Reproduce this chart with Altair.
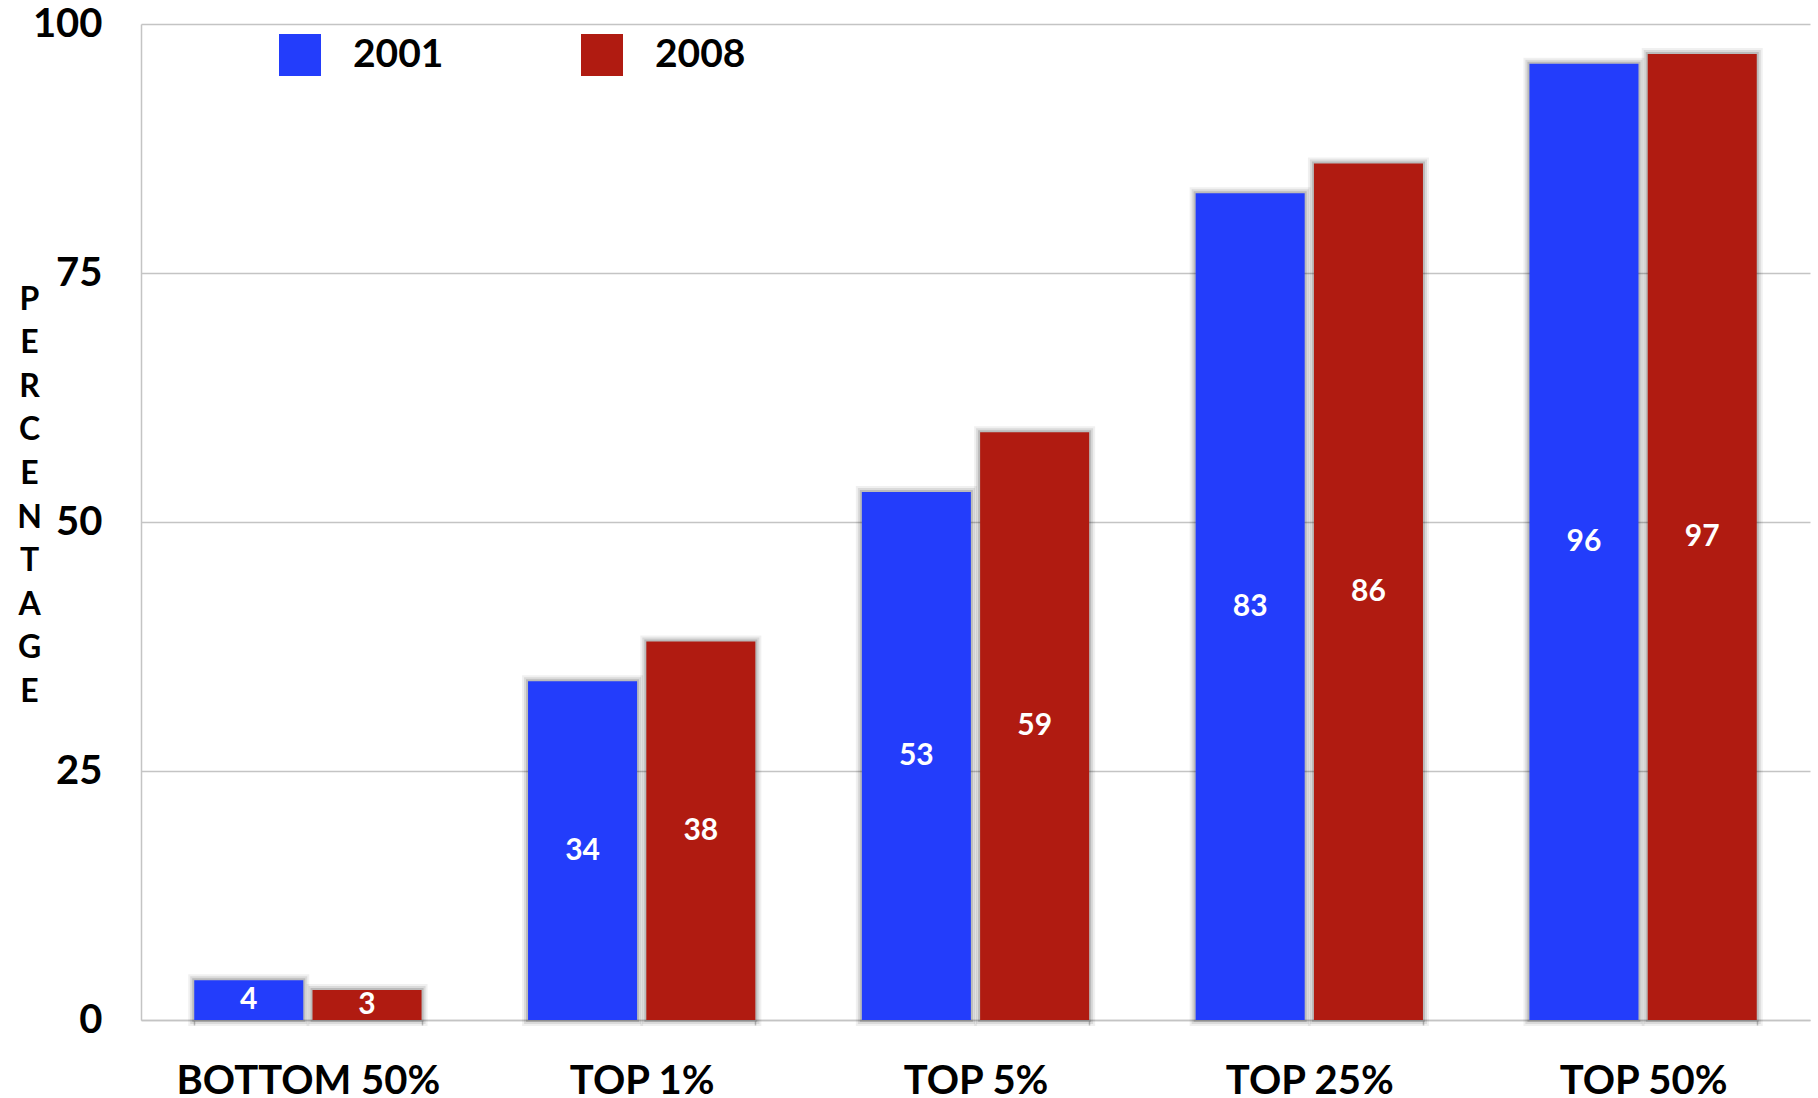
import altair as alt
import pandas as pd

# Share of income tax paid by each income group, 2001 vs 2008
categories = ["BOTTOM 50%", "TOP 1%", "TOP 5%", "TOP 25%", "TOP 50%"]
years = ["2001", "2008"]
share_2001 = [4, 34, 53, 83, 96]
share_2008 = [3, 38, 59, 86, 97]
y_ticks = [0, 25, 50, 75, 100]
bar_colors = ["#233DFB", "#B01B11"]

rows = []
for cat, a, b in zip(categories, share_2001, share_2008):
    rows.append({"group": cat, "year": years[0], "value": a})
    rows.append({"group": cat, "year": years[1], "value": b})
df = pd.DataFrame(rows)

FONT = "Lato"

x_enc = alt.X(
    "group:N",
    sort=categories,
    scale=alt.Scale(paddingInner=0.319, paddingOuter=0.1595),
    axis=alt.Axis(
        title=None,
        tickBand="extent",
        grid=False,
        domainColor="#c4c4c4",
        domainWidth=1.5,
        tickColor="#c4c4c4",
        tickWidth=1.5,
        tickSize=5,
        labelAngle=0,
        labelFont=FONT,
        labelFontWeight="bold",
        labelFontSize=40,
        labelColor="#000000",
        labelPadding=36,
        labelBaseline="top",
        labelLimit=500,
    ),
)
xoff_enc = alt.XOffset(
    "year:N", sort=years, scale=alt.Scale(paddingInner=0.078, paddingOuter=0)
)
y_enc = alt.Y(
    "value:Q",
    scale=alt.Scale(domain=[0, 100], nice=False),
    axis=alt.Axis(
        values=y_ticks,
        title=list("PERCENTAGE"),
        titleAngle=0,
        titleFont=FONT,
        titleFontWeight="bold",
        titleFontSize=32,
        titleLineHeight=43.6,
        titleX=-112,
        titleY=275,
        titleAlign="center",
        titleBaseline="middle",
        titleColor="#000000",
        ticks=False,
        grid=True,
        gridColor="#c4c4c4",
        gridWidth=1.5,
        domainColor="#c4c4c4",
        domainWidth=1.5,
        labelFont=FONT,
        labelFontWeight="bold",
        labelFontSize=40,
        labelColor="#000000",
        labelPadding=39,
        labelBaseline="middle",
    ),
)

base = alt.Chart(df).encode(x=x_enc, xOffset=xoff_enc)

# soft drop shadow around the bars
shadows = [
    base.mark_bar(fillOpacity=0, stroke="#000000", strokeWidth=w, strokeOpacity=o).encode(y=y_enc)
    for w, o in [(12, 0.06), (8, 0.09), (4, 0.14)]
]

bars = base.mark_bar().encode(
    y=y_enc,
    color=alt.Color(
        "year:N",
        sort=years,
        scale=alt.Scale(domain=years, range=bar_colors),
        legend=alt.Legend(
            title=None,
            orient="none",
            legendX=138,
            legendY=10,
            direction="horizontal",
            symbolType="square",
            symbolSize=1764,
            symbolStrokeWidth=0,
            symbolOpacity=1,
            labelFont=FONT,
            labelFontWeight="bold",
            labelFontSize=39,
            labelColor="#000000",
            labelOffset=32,
            columnPadding=137,
            padding=0,
        ),
    ),
)

labels = base.transform_calculate(mid="datum.value / 2").mark_text(
    color="#ffffff", font=FONT, fontWeight="bold", fontSize=30, baseline="middle"
).encode(y=alt.Y("mid:Q", scale=alt.Scale(domain=[0, 100], nice=False)), text="value:Q")

chart = (
    alt.layer(*shadows, bars, labels)
    .properties(
        width=1669,
        height=996,
        autosize=alt.AutoSizeParams(type="none"),
        padding={"left": 141, "top": 24, "right": 8, "bottom": 78},
        background="#ffffff",
    )
    .configure_view(stroke=None)
)

chart.save("out.html", embed_options={"renderer": "svg", "actions": False})
